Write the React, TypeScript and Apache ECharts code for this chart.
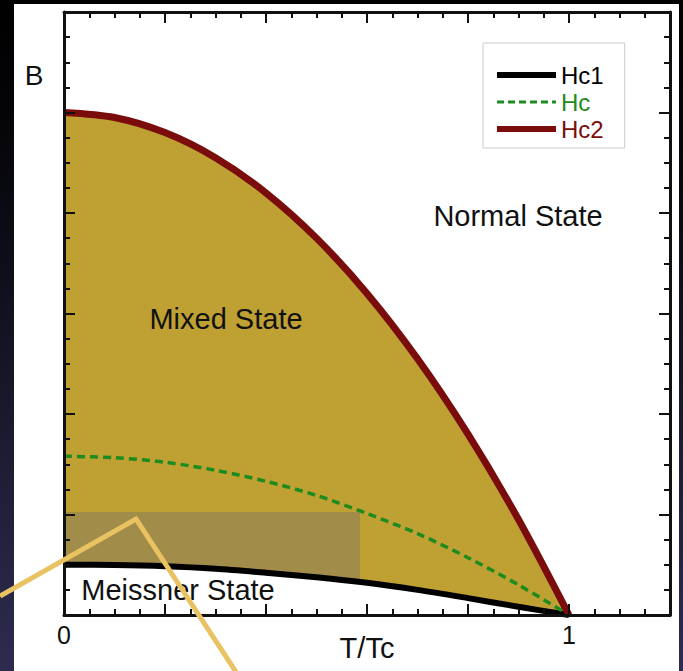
import React, { useEffect, useRef } from 'react';
import * as echarts from 'echarts';

// Reduced temperature T/Tc
const T = [0, 0.1, 0.2, 0.3, 0.4, 0.5, 0.6, 0.7, 0.8, 0.9, 1.0];
// Critical fields (arbitrary units of B)
const HC1 = [0.5, 0.497, 0.485, 0.46, 0.42, 0.375, 0.32, 0.25, 0.168, 0.082, 0];
const HC = [1.58, 1.565, 1.52, 1.44, 1.33, 1.19, 1.01, 0.81, 0.57, 0.3, 0];
const HC2 = [5, 4.95, 4.8, 4.55, 4.2, 3.75, 3.2, 2.55, 1.8, 0.95, 0];

const X_TICK_LABELS = ['0', '1'];
const SERIES_NAMES = ['Hc1', 'Hc', 'Hc2'];
const REGION_LABELS = ['Mixed State', 'Normal State', 'Meissner State'];
const Y_NAME = 'B';
const X_NAME = 'T/Tc';

const FONT = '"Liberation Sans", Arial, Helvetica, sans-serif';
const C_HC1 = '#000000';
const C_HC = '#1e8b1e';
const C_HC2 = '#7a0c0c';
const C_MIXED = '#bfa033';
const C_OVERLAY = '#a28c49';
const C_POINTER = '#e9c262';

const pairs = (ys: number[]) => T.map((t, i) => [t, ys[i]]);

export default function App() {
  const ref = useRef<HTMLDivElement>(null);
  useEffect(() => {
    if (!ref.current) return;
    const chart = echarts.init(ref.current, undefined, { renderer: 'svg' });
    const axisCommon: any = {
      type: 'value',
      axisLine: { show: true, onZero: false, lineStyle: { color: '#111', width: 3 } },
      axisTick: { show: true, inside: true, length: 11, lineStyle: { color: '#111', width: 2 } },
      minorTick: { show: true, splitNumber: 4, length: 6, lineStyle: { color: '#111', width: 2 } },
      splitLine: { show: false },
      minorSplitLine: { show: false },
      z: 10,
    };
    const xLabel = (v: number) =>
      Math.abs(v) < 1e-9 ? X_TICK_LABELS[0] : Math.abs(v - 1) < 1e-9 ? X_TICK_LABELS[1] : '';
    const legendIconStyle = { opacity: 0 };
    chart.setOption({
      animation: false,
      grid: { left: 64, right: 13, top: 12, bottom: 56, containLabel: false, outerBoundsMode: 'none' },
      xAxis: [
        {
          ...axisCommon,
          min: 0,
          max: 1.2,
          interval: 0.2,
          position: 'bottom',
          axisLabel: { show: true, formatter: xLabel, fontSize: 25, fontFamily: FONT, color: '#111', margin: 7 },
          name: X_NAME,
          nameLocation: 'middle',
          nameGap: 18,
          nameMoveOverlap: false,
          nameTextStyle: { fontSize: 29, fontFamily: FONT, color: '#111', verticalAlign: 'top' },
        },
        { ...axisCommon, min: 0, max: 1.2, interval: 0.2, position: 'top', axisLabel: { show: false } },
      ],
      yAxis: [
        { ...axisCommon, min: 0, max: 6, interval: 1, position: 'left', axisLabel: { show: false } },
        { ...axisCommon, min: 0, max: 6, interval: 1, position: 'right', axisLabel: { show: false } },
      ],
      legend: {
        data: [
          { name: SERIES_NAMES[0], lineStyle: { width: 6, color: C_HC1 }, itemStyle: legendIconStyle, textStyle: { color: C_HC1 } },
          { name: SERIES_NAMES[1], lineStyle: { width: 3, type: [7, 4], color: C_HC }, itemStyle: legendIconStyle, textStyle: { color: C_HC } },
          { name: SERIES_NAMES[2], lineStyle: { width: 6, color: C_HC2 }, itemStyle: legendIconStyle, textStyle: { color: C_HC2 } },
        ],
        orient: 'vertical',
        left: 483,
        top: 43,
        itemWidth: 59,
        itemHeight: 2,
        itemGap: 3,
        padding: [20, 21, 7, 11],
        borderColor: '#cccccc',
        borderWidth: 1,
        selectedMode: false,
        textStyle: { fontSize: 24, fontFamily: FONT },
      },
      series: [
        {
          name: 'mixedFill',
          type: 'line',
          data: pairs(HC2),
          smooth: 0.3,
          symbol: 'none',
          lineStyle: { width: 0, opacity: 0 },
          areaStyle: { color: C_MIXED, opacity: 1 },
          z: 2,
          silent: true,
        },
        {
          name: 'meissnerFill',
          type: 'line',
          data: pairs(HC1),
          smooth: 0.3,
          symbol: 'none',
          lineStyle: { width: 0, opacity: 0 },
          areaStyle: { color: '#ffffff', opacity: 1 },
          z: 4,
          silent: true,
        },
        {
          name: SERIES_NAMES[0],
          type: 'line',
          data: pairs(HC1),
          smooth: 0.3,
          symbol: 'none',
          lineStyle: { width: 6, color: C_HC1 },
          itemStyle: { color: C_HC1 },
          z: 5,
        },
        {
          name: SERIES_NAMES[1],
          type: 'line',
          data: pairs(HC),
          smooth: 0.3,
          symbol: 'none',
          lineStyle: { width: 3.5, color: C_HC, type: [8, 5] },
          itemStyle: { color: C_HC },
          z: 5,
        },
        {
          name: SERIES_NAMES[2],
          type: 'line',
          data: pairs(HC2),
          smooth: 0.3,
          symbol: 'none',
          lineStyle: { width: 7, color: C_HC2 },
          itemStyle: { color: C_HC2 },
          z: 6,
        },
      ],
      graphic: [
        {
          type: 'rect',
          z: 3,
          silent: true,
          shape: { x: 64, y: 512, width: 296, height: 72 },
          style: { fill: C_OVERLAY },
        },
        {
          type: 'text',
          z: 8,
          x: 226,
          y: 319,
          style: { text: REGION_LABELS[0], fontSize: 29, fontFamily: FONT, fill: '#111', align: 'center', verticalAlign: 'middle' },
        },
        {
          type: 'text',
          z: 8,
          x: 518,
          y: 216,
          style: { text: REGION_LABELS[1], fontSize: 29, fontFamily: FONT, fill: '#111', align: 'center', verticalAlign: 'middle' },
        },
        {
          type: 'text',
          z: 8,
          x: 178,
          y: 590,
          style: { text: REGION_LABELS[2], fontSize: 29, fontFamily: FONT, fill: '#111', align: 'center', verticalAlign: 'middle' },
        },
        {
          type: 'text',
          z: 8,
          x: 34,
          y: 75,
          style: { text: Y_NAME, fontSize: 28, fontFamily: FONT, fill: '#111', align: 'center', verticalAlign: 'middle' },
        },
        {
          type: 'polyline',
          z: 20,
          silent: true,
          shape: { points: [[0, 596], [136, 519], [238, 675]] },
          style: { stroke: C_POINTER, lineWidth: 5, fill: 'none', lineJoin: 'miter' },
        },
      ],
    });
    return () => chart.dispose();
  }, []);

  return (
    <div
      style={{
        position: 'fixed',
        left: 0,
        top: 0,
        width: 683,
        height: 671,
        overflow: 'hidden',
        background: 'linear-gradient(to bottom, #000000 0%, #07070d 25%, #2d2c50 100%)',
      }}
    >
      <div style={{ position: 'absolute', left: 14, top: 4, width: 665, height: 667, background: '#ffffff' }} />
      <div ref={ref} style={{ position: 'absolute', left: 0, top: 0, width: 683, height: 671 }} />
    </div>
  );
}
